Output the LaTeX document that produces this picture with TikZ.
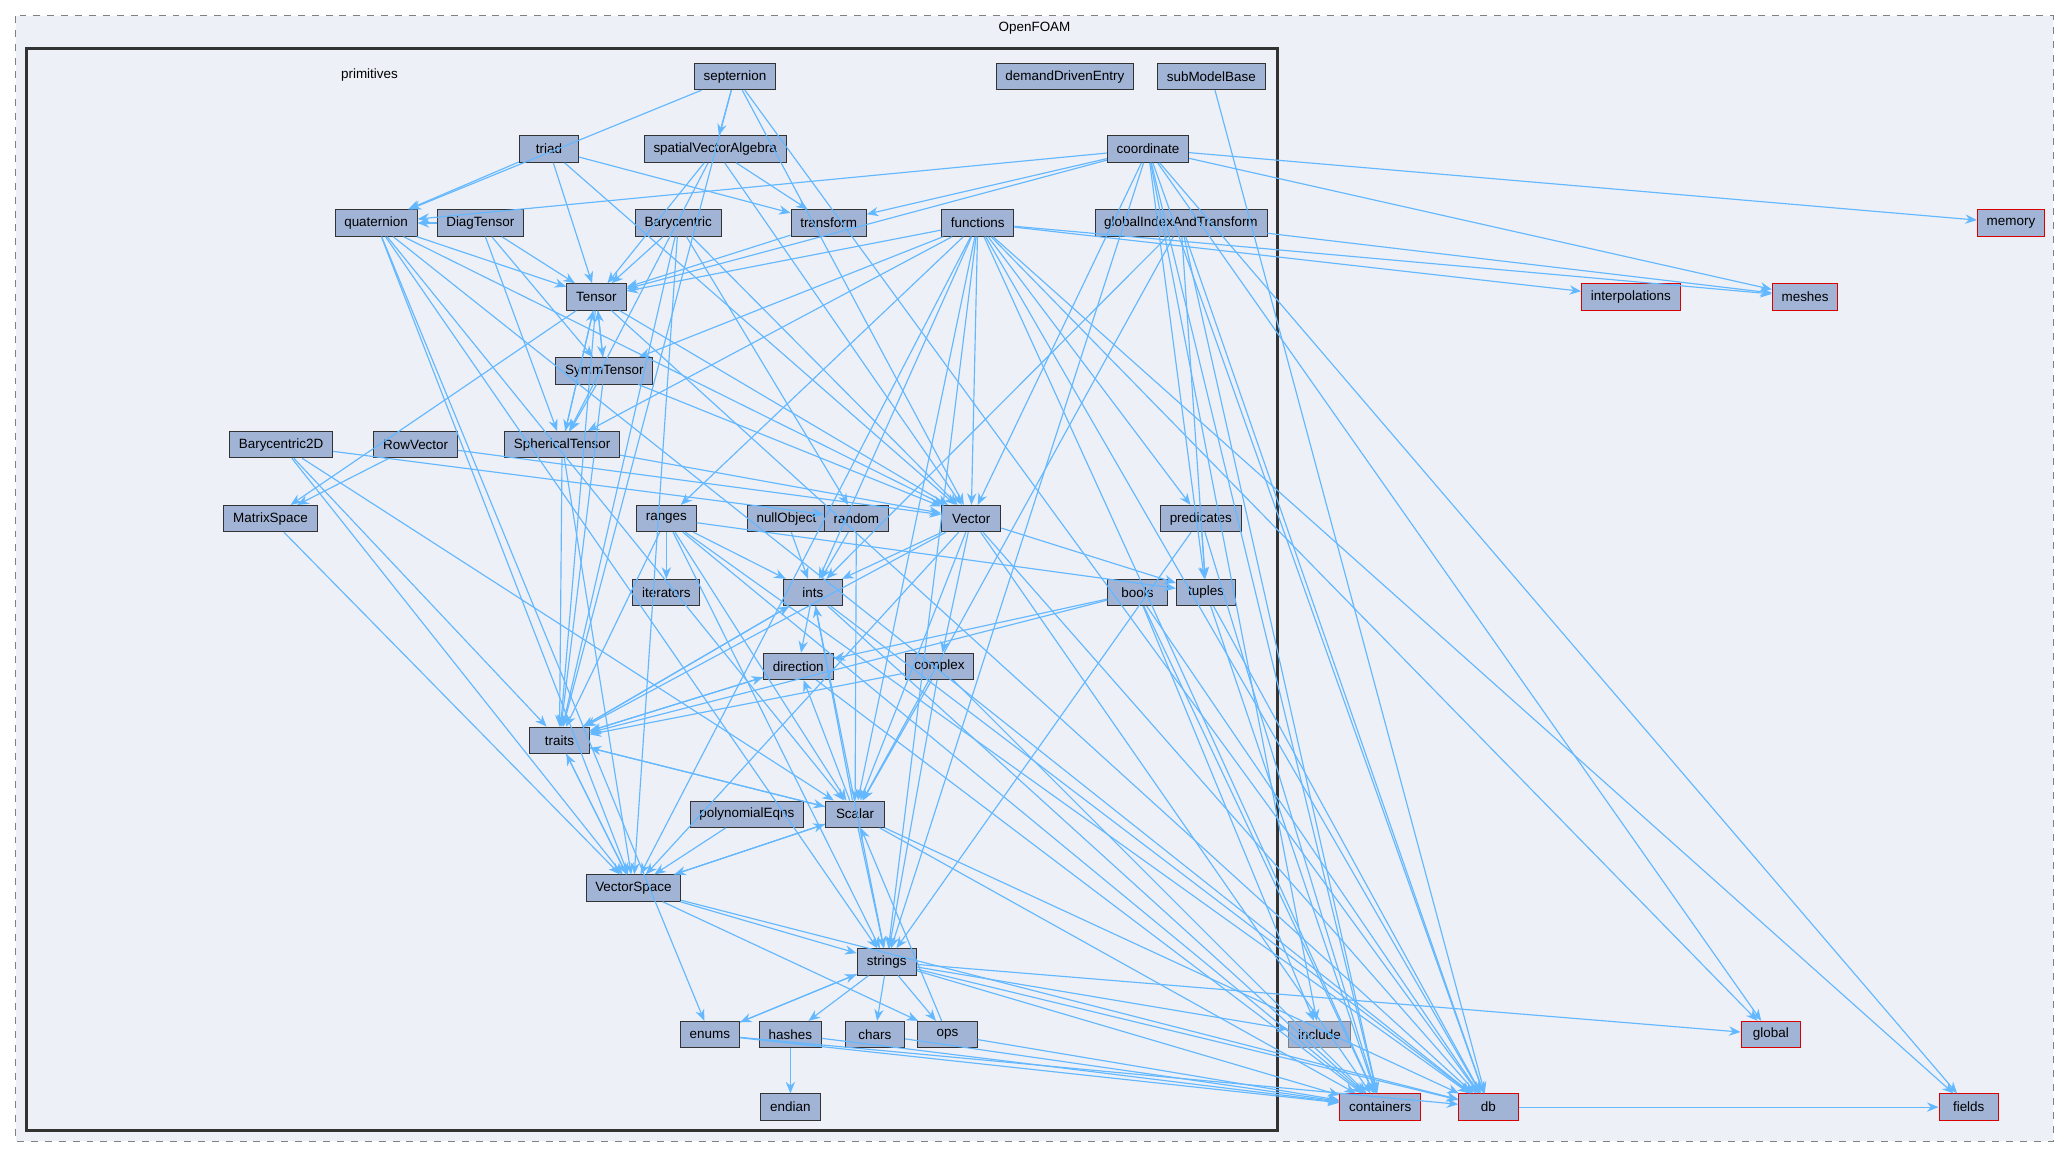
\documentclass[tikz,border=0pt]{standalone}
\usepackage{fontspec}
\setmainfont{Liberation Sans}
\usetikzlibrary{arrows.meta}
\definecolor{boxfill}{HTML}{EDF0F7}
\definecolor{dirfill}{HTML}{A2B4D6}
\definecolor{edgeblue}{HTML}{63B8FF}
\tikzset{
  dir/.style={draw=black!80, fill=dirfill, minimum height=0.4cm, minimum width=0.9cm, inner xsep=4pt, inner ysep=0pt, font=\fontsize{5.8}{7}\selectfont},
  ext/.style={dir, draw=red!85!black},
  dep/.style={-{Stealth[length=5pt,width=4pt]}, edgeblue, line width=0.5pt},
}
\begin{document}
\begin{tikzpicture}[x=0.02cm, y=-0.02cm]
    \useasboundingbox (0,0) rectangle (1568,877);
    % OpenFOAM and primitives boxes
    \draw[dashed, gray, fill=boxfill] (12,12) rectangle (1556,865);
    \node[font=\fontsize{5.8}{7}\selectfont] (lblOF) at (784,21) {OpenFOAM};
    \draw[very thick, black!80, fill=boxfill] (20,37) rectangle (968,857);
    \node[font=\fontsize{5.8}{7}\selectfont] (lblPrim) at (280,57) {primitives};

    % directories inside primitives
    \node[dir] (septernion) at (557,58) {septernion};
    \node[dir] (demand) at (807,58) {demandDrivenEntry};
    \node[dir] (subModel) at (918,58) {subModelBase};
    \node[dir] (triad) at (416,113) {triad};
    \node[dir] (sva) at (542,113) {spatialVectorAlgebra};
    \node[dir] (coordinate) at (870,113) {coordinate};
    \node[dir] (quaternion) at (285,169) {quaternion};
    \node[dir] (diagT) at (364,169) {DiagTensor};
    \node[dir] (bary) at (514,169) {Barycentric};
    \node[dir] (transform) at (628,169) {transform};
    \node[dir] (functions) at (741,169) {functions};
    \node[dir] (gIAT) at (895,169) {globalIndexAndTransform};
    \node[dir] (tensor) at (452,225) {Tensor};
    \node[dir] (symmT) at (458,281) {SymmTensor};
    \node[dir] (bary2D) at (213,337) {Barycentric2D};
    \node[dir] (rowVec) at (315,337) {RowVector};
    \node[dir] (spherT) at (426,337) {SphericalTensor};
    \node[dir] (matSpace) at (205,393) {MatrixSpace};
    \node[dir] (ranges) at (505,393) {ranges};
    \node[dir] (nullObj) at (596,393) {nullObject};
    \node[dir] (random) at (649,393) {random};
    \node[dir] (vector) at (736,393) {Vector};
    \node[dir] (predicates) at (910,393) {predicates};
    \node[dir] (iterators) at (505,449) {iterators};
    \node[dir] (ints) at (616,449) {ints};
    \node[dir] (bools) at (862,449) {bools};
    \node[dir] (tuples) at (914,449) {tuples};
    \node[dir] (direction) at (605,505) {direction};
    \node[dir] (complex) at (712,505) {complex};
    \node[dir] (traits) at (424,561) {traits};
    \node[dir] (polyEqns) at (566,617) {polynomialEqns};
    \node[dir] (scalar) at (648,617) {Scalar};
    \node[dir] (vecSpace) at (480,673) {VectorSpace};
    \node[dir] (strings) at (672,729) {strings};
    \node[dir] (enums) at (538,784) {enums};
    \node[dir] (hashes) at (599,784) {hashes};
    \node[dir] (chars) at (663,784) {chars};
    \node[dir] (ops) at (718,784) {ops};
    \node[dir] (endian) at (599,839) {endian};

    % directories outside primitives
    \node[ext] (memory) at (1524,169) {memory};
    \node[ext] (interp) at (1236,225) {interpolations};
    \node[ext] (meshes) at (1368,225) {meshes};
    \node[dir, draw=gray] (include) at (1000,784) {include};
    \node[ext] (global) at (1342,784) {global};
    \node[ext] (containers) at (1046,839) {containers};
    \node[ext] (db) at (1128,839) {db};
    \node[ext] (fields) at (1492,839) {fields};

    % dependencies
    \foreach \a/\b in {septernion/quaternion, septernion/sva, septernion/vector, septernion/traits, septernion/db,
        subModel/db,
        triad/quaternion, triad/tensor, triad/vector, triad/transform,
        sva/tensor, sva/transform, sva/vector, sva/spherT,
        coordinate/quaternion, coordinate/tensor, coordinate/transform, coordinate/vector, coordinate/memory,
        coordinate/meshes, coordinate/db, coordinate/global, coordinate/fields, coordinate/containers,
        coordinate/strings, coordinate/tuples, coordinate/include,
        quaternion/tensor, quaternion/vector, quaternion/scalar, quaternion/vecSpace, quaternion/enums,
        quaternion/strings, quaternion/db,
        diagT/quaternion, diagT/tensor, diagT/symmT, diagT/spherT,
        bary/tensor, bary/vector, bary/random, bary/traits, bary/vecSpace,
        transform/tensor,
        functions/tensor, functions/symmT, functions/spherT, functions/vector, functions/ranges, functions/ints,
        functions/scalar, functions/strings, functions/predicates, functions/interp, functions/meshes,
        functions/db, functions/containers, functions/global, functions/fields, functions/vecSpace,
        gIAT/meshes, gIAT/tuples, gIAT/db, gIAT/scalar, gIAT/containers, gIAT/ints,
        tensor/symmT, tensor/spherT, tensor/vector, tensor/matSpace, tensor/traits, tensor/db,
        symmT/tensor, symmT/spherT, symmT/vector, symmT/traits,
        spherT/tensor, spherT/vector, spherT/vecSpace, spherT/traits,
        bary2D/random, bary2D/traits, bary2D/scalar, bary2D/vecSpace,
        rowVec/matSpace, rowVec/vector, matSpace/vecSpace,
        ranges/iterators, ranges/ints, ranges/traits, ranges/scalar, ranges/tuples, ranges/containers,
        ranges/db, ranges/strings,
        nullObj/ints, random/ints, random/scalar,
        vector/ints, vector/complex, vector/scalar, vector/traits, vector/vecSpace, vector/db,
        vector/containers, vector/tuples,
        predicates/tuples, predicates/strings, predicates/containers,
        ints/direction, ints/traits, ints/strings, ints/containers, ints/db,
        bools/direction, bools/traits, bools/include, bools/containers, bools/db,
        tuples/containers, tuples/db,
        direction/traits, direction/containers,
        complex/traits, complex/scalar, complex/strings, complex/containers,
        traits/ints, traits/direction, traits/scalar, traits/vecSpace,
        polyEqns/vecSpace,
        scalar/ints, scalar/direction, scalar/traits, scalar/vecSpace, scalar/strings, scalar/containers, scalar/db,
        vecSpace/scalar, vecSpace/traits, vecSpace/strings, vecSpace/ops, vecSpace/db,
        strings/enums, strings/hashes, strings/chars, strings/ops, strings/include, strings/global,
        strings/containers, strings/db,
        enums/strings, enums/containers, enums/db,
        hashes/endian, hashes/containers, chars/containers, ops/scalar, ops/containers,
        db/fields}
        \draw[dep] (\a) -- (\b);
\end{tikzpicture}
\end{document}
